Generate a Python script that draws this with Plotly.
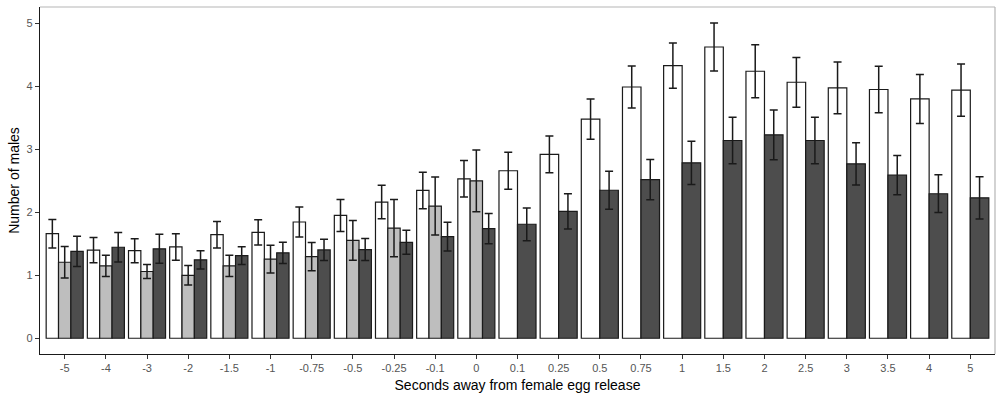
import plotly.graph_objects as go

# Time bins relative to female egg release (seconds)
categories = ["-5", "-4", "-3", "-2", "-1.5", "-1", "-0.75", "-0.5", "-0.25", "-0.1", "0",
              "0.1", "0.25", "0.5", "0.75", "1", "1.5", "2", "2.5", "3", "3.5", "4", "5"]

# Series 1 (white bars): mean and standard error
white_mean = [1.66, 1.40, 1.39, 1.45, 1.645, 1.68, 1.846, 1.95, 2.163, 2.347, 2.532,
              2.66, 2.92, 3.48, 3.99, 4.33, 4.625, 4.24, 4.065, 3.975, 3.95, 3.80, 3.94]
white_se = [0.225, 0.20, 0.19, 0.21, 0.21, 0.20, 0.24, 0.255, 0.265, 0.29, 0.29,
            0.295, 0.29, 0.32, 0.335, 0.36, 0.38, 0.42, 0.395, 0.41, 0.37, 0.39, 0.415]

# Series 2 (light grey bars): only recorded up to 0 s
grey_mean = [1.207, 1.15, 1.06, 1.00, 1.15, 1.255, 1.297, 1.555, 1.75, 2.099, 2.50,
             None, None, None, None, None, None, None, None, None, None, None, None]
grey_se = [0.25, 0.17, 0.11, 0.155, 0.17, 0.22, 0.225, 0.315, 0.455, 0.46, 0.49,
           None, None, None, None, None, None, None, None, None, None, None, None]

# Series 3 (dark grey bars)
dark_mean = [1.38, 1.445, 1.42, 1.245, 1.313, 1.356, 1.403, 1.408, 1.524, 1.614, 1.74,
             1.81, 2.015, 2.35, 2.52, 2.785, 3.14, 3.23, 3.14, 2.77, 2.59, 2.295, 2.23]
dark_se = [0.24, 0.235, 0.23, 0.145, 0.14, 0.17, 0.17, 0.175, 0.19, 0.23, 0.24,
           0.26, 0.28, 0.30, 0.32, 0.345, 0.37, 0.395, 0.37, 0.335, 0.31, 0.30, 0.335]

series = [
    ("white", white_mean, white_se, "#ffffff"),
    ("light", grey_mean, grey_se, "#bebebe"),
    ("dark", dark_mean, dark_se, "#4d4d4d"),
]

GROUP_WIDTH = 0.9

# Dodge bars within each category, splitting the group width among the series present
n_present = [sum(1 for _, m, _, _ in series if m[i] is not None) for i in range(len(categories))]
widths = {name: [] for name, _, _, _ in series}
offsets = {name: [] for name, _, _, _ in series}
for i in range(len(categories)):
    w = GROUP_WIDTH / n_present[i]
    k = 0
    for name, m, _, _ in series:
        widths[name].append(w)
        offsets[name].append(-GROUP_WIDTH / 2 + k * w)
        if m[i] is not None:
            k += 1

fig = go.Figure()
for name, m, se, color in series:
    fig.add_trace(go.Bar(
        x=categories, y=m, name=name,
        width=widths[name], offset=offsets[name],
        marker=dict(color=color, line=dict(color="#1a1a1a", width=1.2)),
        error_y=dict(type="data", array=se, visible=True,
                     color="#1a1a1a", thickness=1.5, width=4),
    ))

fig.update_layout(
    width=999, height=395,
    barmode="overlay",
    showlegend=False,
    plot_bgcolor="white", paper_bgcolor="white",
    margin=dict(l=40, r=4, t=7, b=41),
    font=dict(family="Liberation Sans, Arial, sans-serif", color="#000000"),
    shapes=[
        dict(type="line", xref="paper", yref="paper", x0=0, x1=1, y0=1, y1=1,
             line=dict(color="#b5b5b5", width=1.2)),
        dict(type="line", xref="paper", yref="paper", x0=1, x1=1, y0=0, y1=1,
             line=dict(color="#b5b5b5", width=1.2)),
    ],
)

fig.update_xaxes(
    type="category", range=[-0.6, len(categories) - 0.4],
    showgrid=False, zeroline=False,
    showline=True, linecolor="#1a1a1a", linewidth=1.2,
    ticks="outside", ticklen=4, tickcolor="#333333", tickwidth=1,
    tickfont=dict(size=11, color="#555555"),
    title=dict(text="Seconds away from female egg release", font=dict(size=14), standoff=6),
)
fig.update_yaxes(
    range=[-0.25, 5.26], tickvals=[0, 1, 2, 3, 4, 5],
    showgrid=False, zeroline=False,
    showline=True, linecolor="#1a1a1a", linewidth=1.2,
    ticks="outside", ticklen=4, tickcolor="#333333", tickwidth=1,
    tickfont=dict(size=11, color="#555555"),
    title=dict(text="Number of males", font=dict(size=14), standoff=3),
)

fig.write_html("out.html")
